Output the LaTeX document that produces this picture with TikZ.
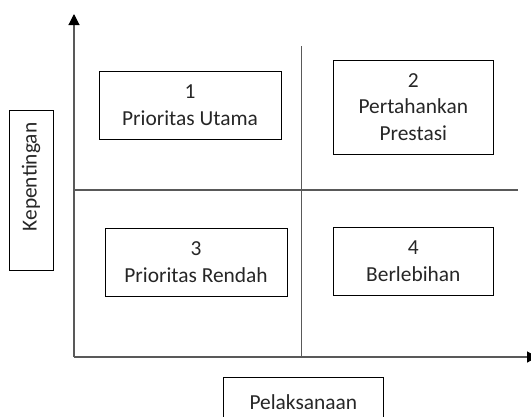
\documentclass[tikz,border=0pt]{standalone}
\usepackage{fontspec}
\setmainfont{Carlito}
\usetikzlibrary{arrows.meta}
\begin{document}
\begin{tikzpicture}[x=1pt,y=-1pt,
  qbox/.style={draw=black,line width=0.9pt,align=center,inner sep=0pt,text=black!85,
    font=\fontsize{21.4}{26.5}\selectfont},
  axisline/.style={draw=black!65,line width=1.1pt,-{Triangle[length=11pt,width=11pt,color=black]}},
  divline/.style={draw=black!65,line width=1.1pt}]
\useasboundingbox (0,0) rectangle (531,416);
\clip (0,0) rectangle (531,416);
\coordinate (O) at (74,357);
\coordinate (ytop) at (74,14);
\coordinate (xend) at (538,357);
\coordinate (vtop) at (301.7,46);
\coordinate (vbot) at (301.7,357);
\coordinate (hl) at (74,190);
\coordinate (hr) at (518,190);
\draw[divline] (vtop) -- (vbot);
\draw[divline] (hl) -- (hr);
\draw[axisline] (O) -- (ytop);
\draw[axisline] (O) -- (xend);
\node[qbox,minimum width=182pt,minimum height=68pt] (q1) at (190,105) {1\\Prioritas Utama};
\node[qbox,minimum width=160pt,minimum height=94pt] (q2) at (413.3,107) {2\\Pertahankan\\Prestasi};
\node[qbox,minimum width=182pt,minimum height=68pt] (q3) at (196,262) {3\\Prioritas Rendah};
\node[qbox,minimum width=160pt,minimum height=68pt] (q4) at (413.3,261) {4\\Berlebihan};
\node[qbox,minimum width=160pt,minimum height=44pt,rotate=90] (ky) at (31,190) {\hspace*{26pt}Kepentingan};
\node[qbox,minimum width=160pt,minimum height=48pt] (px) at (303.3,401.7) {Pelaksanaan};
\end{tikzpicture}
\end{document}
